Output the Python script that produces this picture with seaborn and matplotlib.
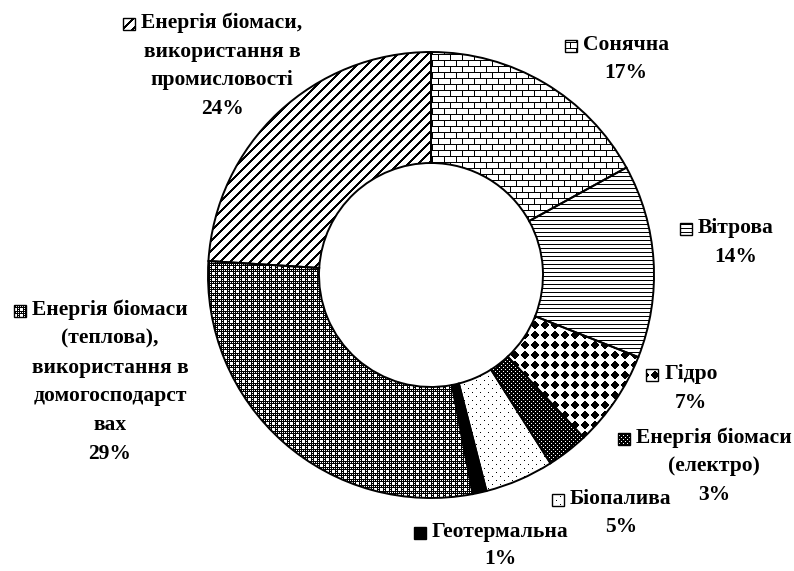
#!/usr/bin/env python3
"""Donut chart: structure of renewable energy sources (black & white patterned)."""

import numpy as np
import matplotlib.pyplot as plt
from matplotlib.patches import Rectangle
import seaborn as sns

# ---- data -------------------------------------------------------------
sources = [
    "Сонячна",
    "Вітрова",
    "Гідро",
    "Енергія біомаси\n(електро)",
    "Біопалива",
    "Геотермальна",
    "Енергія біомаси\n(теплова),\nвикористання в\nдомогосподарст\nвах",
    "Енергія біомаси,\nвикористання в\nпромисловості",
]
shares = [17, 14, 7, 3, 5, 1, 29, 24]

# ---- style / layout (pixel coords, y from top) -------------------------
patterns = ["brick", "hlines", "diamond", "darkdots", "sparse", "solid", "gray", "diag"]
label_cx = [626, 736, 691, 714, 621, 500, 110, 222]
label_y0 = [45, 228, 374, 438, 499, 532, 310, 23]
label_step = [28.5, 28.5, 28.5, 28.5, 28.5, 27, 28.8, 28.5]

W, H = 794, 571
CENTER = (431, H - 275)
R_OUT, R_IN = 223, 112


def texture(kind):
    r, c = np.indices((H, W))
    if kind == "brick":
        off = (r // 6 % 2) * 6
        black = (r % 6 == 0) | ((c + off) % 12 == 0)
    elif kind == "hlines":
        black = r % 4 == 0
    elif kind == "diamond":
        dx = np.abs(c % 10 - 4.5)
        dy = np.abs(r % 10 - 4.5)
        black = dx + dy < 4.6
    elif kind == "darkdots":
        white = ((r % 4 == 1) & (c % 4 == 1)) | ((r % 4 == 3) & (c % 4 == 3))
        black = ~white
    elif kind == "sparse":
        black = ((r % 8 == 0) & (c % 8 == 0)) | ((r % 8 == 4) & (c % 8 == 4))
    elif kind == "gray":
        black = ~((r % 2 == 0) & (c % 2 == 0))
        cross = ((r % 6 == 3) & (c % 6 >= 2) & (c % 6 <= 4)) | \
                ((c % 6 == 3) & (r % 6 >= 2) & (r % 6 <= 4))
        black = black & ~cross
    elif kind == "diag":
        black = (c + r) % 10 < 3
    else:
        black = np.ones((H, W), dtype=bool)
    return np.where(black, 0.0, 1.0)


def fill(ax, patch, kind):
    im = ax.imshow(texture(kind), cmap="gray", vmin=0, vmax=1, extent=(0, W, 0, H),
                   origin="upper", interpolation="nearest", zorder=1)
    im.set_clip_path(patch)


def main():
    sns.set_theme(style="white")
    plt.rcParams["font.family"] = ["Liberation Serif", "DejaVu Serif"]

    fig = plt.figure(figsize=(W / 100, H / 100), dpi=100)
    ax = fig.add_axes([0, 0, 1, 1])

    wedges, _ = ax.pie(
        shares, startangle=90, counterclock=False, center=CENTER, radius=R_OUT,
        wedgeprops=dict(width=R_OUT - R_IN, facecolor="none", edgecolor="black",
                        linewidth=1.4, zorder=3),
    )
    for w, kind in zip(wedges, patterns):
        fill(ax, w, kind)

    ax.set_xlim(0, W)
    ax.set_ylim(0, H)
    ax.set_aspect("auto")
    ax.axis("off")

    first_lines = []
    for name, val, cx, y0, step in zip(sources, shares, label_cx, label_y0, label_step):
        lines = name.split("\n") + [f"{val}%"]
        for i, line in enumerate(lines):
            t = ax.text(cx, H - (y0 + i * step), line, ha="center", va="center",
                        fontsize=15.5, fontweight="bold", color="black", zorder=5)
            if i == 0:
                first_lines.append(t)

    fig.canvas.draw()
    for t, kind in zip(first_lines, patterns):
        bb = t.get_window_extent()
        ymid = (bb.y0 + bb.y1) / 2 - 1
        sq = Rectangle((bb.x0 - 18, ymid - 6), 12, 12, facecolor="none",
                       edgecolor="black", linewidth=1.0, zorder=4)
        ax.add_patch(sq)
        fill(ax, sq, kind)

    fig.savefig("out.png", dpi=100)
    plt.close(fig)


if __name__ == "__main__":
    main()
